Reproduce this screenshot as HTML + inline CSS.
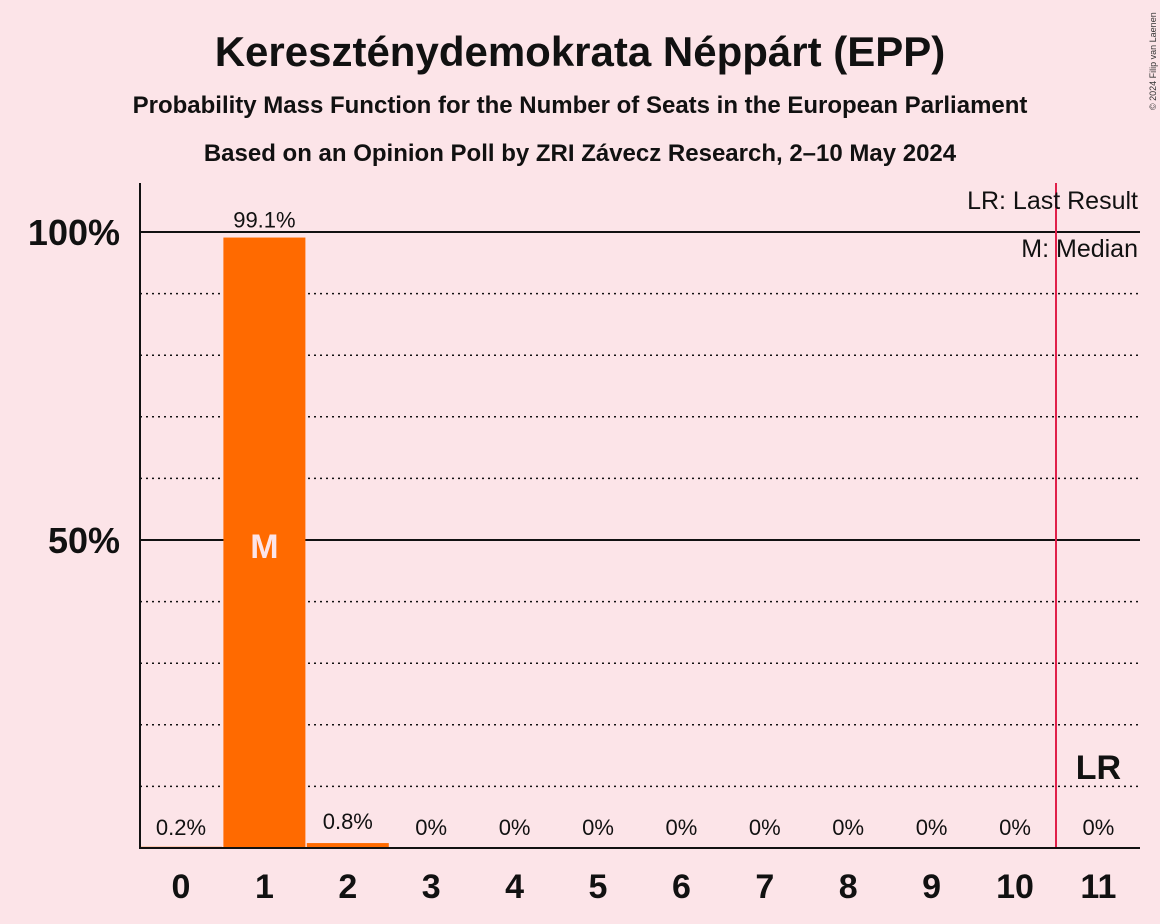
<!DOCTYPE html>
<html><head><meta charset="utf-8"><style>
html,body{margin:0;padding:0;background:#fce4e8;}
svg{display:block;font-family:"Liberation Sans",sans-serif;}
</style></head><body>
<svg id="chart" width="1160" height="924" viewBox="0 0 1160 924" xmlns="http://www.w3.org/2000/svg">
<rect width="1160" height="924" fill="#fce4e8"/>
<text x="580" y="66" text-anchor="middle" font-size="42" font-weight="bold" fill="#111">Kereszténydemokrata Néppárt (EPP)</text>
<text x="580" y="113" text-anchor="middle" font-size="24" font-weight="bold" fill="#111">Probability Mass Function for the Number of Seats in the European Parliament</text>
<text x="580" y="161" text-anchor="middle" font-size="24" font-weight="bold" fill="#111">Based on an Opinion Poll by ZRI Závecz Research, 2–10 May 2024</text>
<text x="1156" y="110" font-size="9" fill="#333" transform="rotate(-90 1156 110)">© 2024 Filip van Laenen</text>
<g id="grid"></g>
<g id="bars"></g>
<g id="labels"></g>
<line x1="1056" y1="183" x2="1056" y2="848" stroke="#e0204a" stroke-width="2"/>
<line x1="140" y1="183" x2="140" y2="849" stroke="#111" stroke-width="2"/>
<line x1="139" y1="848" x2="1140" y2="848" stroke="#111" stroke-width="2"/>
<text x="1138" y="209" text-anchor="end" font-size="25" fill="#111">LR: Last Result</text>
<text x="1138" y="257" text-anchor="end" font-size="25" fill="#111">M: Median</text>
</svg>
<script>
const seats=[0,1,2,3,4,5,6,7,8,9,10,11];
const probs=[0.2,99.1,0.8,0,0,0,0,0,0,0,0,0];
const labels=["0.2%","99.1%","0.8%","0%","0%","0%","0%","0%","0%","0%","0%","0%"];
const yTicks=[50,100];
const yTickLabels=["50%","100%"];
const dotTicks=[10,20,30,40,60,70,80,90];
const medianSeat=1;
const lastResultSeat=11;
const NS="http://www.w3.org/2000/svg";
const x=s=>181+s*83.4;
const y=p=>848-p*6.16;
function mk(tag,attrs,parent,txt){const e=document.createElementNS(NS,tag);for(const k in attrs)e.setAttribute(k,attrs[k]);if(txt!==undefined)e.textContent=txt;document.getElementById(parent).appendChild(e);return e;}
dotTicks.forEach(t=>{const l=mk('line',{x1:140,x2:1140,y1:y(t),y2:y(t),stroke:'#111','stroke-width':1.5,'stroke-dasharray':'2,4'},'grid');

});
yTicks.forEach((t,i)=>{const l=mk('line',{x1:140,x2:1140,y1:y(t),y2:y(t),stroke:'#111','stroke-width':2},'grid');


const tx=mk('text',{x:120,y:y(t)+13,'text-anchor':'end','font-size':36,'font-weight':'bold',fill:'#111'},'grid',yTickLabels[i]);

});
seats.forEach((s,i)=>{
const h=probs[i]*6.16;
const r=mk('rect',{x:x(s)-41,y:848-h,width:82,height:h,fill:'#ff6a00'},'bars');


const ly=probs[i]>5?y(probs[i])-10:826+ (probs[i]>0.5?-3:8);
const t=mk('text',{x:x(s),y:probs[i]>5?ly:(probs[i]>0.5?829:835),'text-anchor':'middle','font-size':22,fill:'#111'},'labels',labels[i]);


const xt=mk('text',{x:x(s),y:898,'text-anchor':'middle','font-size':34,'font-weight':'bold',fill:'#111'},'labels',String(s));


});
const m=mk('text',{x:x(medianSeat),y:558,'text-anchor':'middle','font-size':34,'font-weight':'bold',fill:'#fce4e8'},'labels','M');


const lr=mk('text',{x:x(lastResultSeat),y:779,'text-anchor':'middle','font-size':34,'font-weight':'bold',fill:'#111'},'labels','LR');


</script>
</body></html>
